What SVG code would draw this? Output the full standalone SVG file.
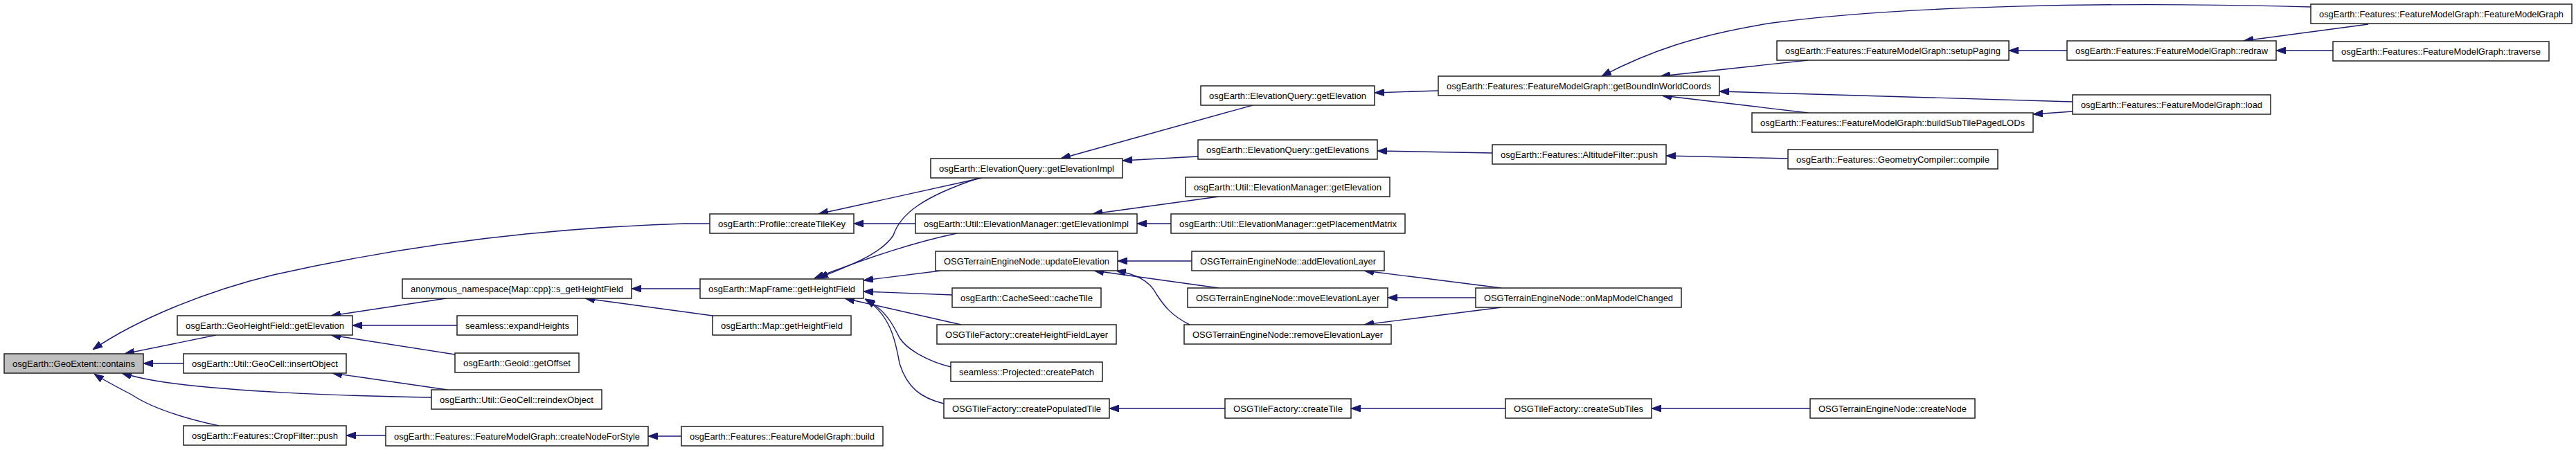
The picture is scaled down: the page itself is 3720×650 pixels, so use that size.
<svg xmlns="http://www.w3.org/2000/svg" width="3720" height="650" viewBox="0 0 3720 650">
<style>
.node rect{fill:#ffffff;stroke:#222222;stroke-width:1.5}
.node.root rect{fill:#bfbfbf}
.node text{font-family:"Liberation Sans",Arial,sans-serif;font-size:13px;fill:#000000;text-anchor:middle}
.edges path{fill:none;stroke:#191970;stroke-width:1.4;marker-end:url(#arr)}
</style>
<defs>
<marker id="arr" markerUnits="userSpaceOnUse" markerWidth="14" markerHeight="10" refX="14" refY="5" orient="auto" viewBox="0 0 14 10">
<path d="M0,0 L14,5 L0,10 z" fill="#191970" stroke="#191970" stroke-width="1"/>
</marker>
</defs>
<rect x="0" y="0" width="3720" height="650" fill="#ffffff"/>
<g class="edges">
<path d="M1025,323 L988,323 C760,330 560,360 395,397 C300,420 200,460 134,505"/>
<path d="M312,484 L180,511"/>
<path d="M265,525 L207,525"/>
<path d="M623,574 C480,572 330,565 237,552 C210,548 190,543 176,539"/>
<path d="M316,615 C270,605 220,590 190,570 C165,557 148,548 136,540"/>
<path d="M644,431 L478,456"/>
<path d="M660,470 L509,470"/>
<path d="M657,512 L478,484"/>
<path d="M646,563 L480,539"/>
<path d="M557,629 L500,629"/>
<path d="M984,630 L936,630"/>
<path d="M1011,417 L912,417"/>
<path d="M1029,456 L845,431"/>
<path d="M1418,257 L1182,309"/>
<path d="M1322,323 L1233,323"/>
<path d="M1414,257 C1330,285 1300,310 1290,340 C1270,370 1220,385 1182,402"/>
<path d="M1382,337 C1320,350 1260,370 1176,402"/>
<path d="M1359,391 L1247,405"/>
<path d="M1375,426 L1247,421"/>
<path d="M1388,469 L1220,431"/>
<path d="M1373,530 C1340,522 1310,505 1299,488 C1290,470 1280,448 1249,432"/>
<path d="M1363,583 C1330,575 1310,560 1299,525 C1293,490 1285,455 1250,432"/>
<path d="M1809,152 L1532,229"/>
<path d="M1730,226 L1621,232"/>
<path d="M1760,284 L1578,309"/>
<path d="M1691,323 L1642,323"/>
<path d="M2077,131 L1985,134"/>
<path d="M2155,221 L1989,218"/>
<path d="M2582,229 L2406,225"/>
<path d="M3337,10 C3050,2 2750,8 2560,33 C2450,50 2380,75 2313,110"/>
<path d="M2611,87 L2398,110"/>
<path d="M2993,147 L2483,132"/>
<path d="M2611,163 L2400,138"/>
<path d="M2985,73 L2901,73"/>
<path d="M2993,161 L2936,165"/>
<path d="M3420,35 L3240,59"/>
<path d="M3369,73 L3287,73"/>
<path d="M1721,377 L1614,377"/>
<path d="M1760,416 L1580,391"/>
<path d="M1718,469 C1690,455 1680,440 1670,425 C1660,405 1640,396 1612,391"/>
<path d="M2168,416 L1970,391"/>
<path d="M2131,430 L2004,430"/>
<path d="M2168,444 L1970,469"/>
<path d="M1769,590 L1602,590"/>
<path d="M2174,590 L1951,590"/>
<path d="M2614,590 L2385,590"/>
</g>
<g id="n0" class="node root"><rect x="6" y="511" width="201" height="28"/><text x="106.5" y="529.5" textLength="177" lengthAdjust="spacingAndGlyphs">osgEarth::GeoExtent::contains</text></g>
<g id="n1" class="node"><rect x="256" y="456" width="253" height="28"/><text x="382.5" y="474.5" textLength="229" lengthAdjust="spacingAndGlyphs">osgEarth::GeoHeightField::getElevation</text></g>
<g id="n2" class="node"><rect x="265" y="511" width="235" height="28"/><text x="382.5" y="529.5" textLength="211" lengthAdjust="spacingAndGlyphs">osgEarth::Util::GeoCell::insertObject</text></g>
<g id="n3" class="node"><rect x="265" y="615" width="235" height="28"/><text x="382.5" y="633.5" textLength="211" lengthAdjust="spacingAndGlyphs">osgEarth::Features::CropFilter::push</text></g>
<g id="n4" class="node"><rect x="581" y="403" width="331" height="28"/><text x="746.5" y="421.5" textLength="307" lengthAdjust="spacingAndGlyphs">anonymous_namespace{Map::cpp}::s_getHeightField</text></g>
<g id="n5" class="node"><rect x="660" y="456" width="174" height="28"/><text x="747" y="474.5" textLength="150" lengthAdjust="spacingAndGlyphs">seamless::expandHeights</text></g>
<g id="n6" class="node"><rect x="657" y="510" width="179" height="28"/><text x="746.5" y="528.5" textLength="155" lengthAdjust="spacingAndGlyphs">osgEarth::Geoid::getOffset</text></g>
<g id="n7" class="node"><rect x="623" y="563" width="246" height="28"/><text x="746" y="581.5" textLength="222" lengthAdjust="spacingAndGlyphs">osgEarth::Util::GeoCell::reindexObject</text></g>
<g id="n8" class="node"><rect x="557" y="616" width="379" height="28"/><text x="746.5" y="634.5" textLength="355" lengthAdjust="spacingAndGlyphs">osgEarth::Features::FeatureModelGraph::createNodeForStyle</text></g>
<g id="n9" class="node"><rect x="984" y="616" width="291" height="28"/><text x="1129.5" y="634.5" textLength="267" lengthAdjust="spacingAndGlyphs">osgEarth::Features::FeatureModelGraph::build</text></g>
<g id="n10" class="node"><rect x="1025" y="309" width="208" height="28"/><text x="1129" y="327.5" textLength="184" lengthAdjust="spacingAndGlyphs">osgEarth::Profile::createTileKey</text></g>
<g id="n11" class="node"><rect x="1011" y="403" width="236" height="28"/><text x="1129" y="421.5" textLength="212" lengthAdjust="spacingAndGlyphs">osgEarth::MapFrame::getHeightField</text></g>
<g id="n12" class="node"><rect x="1029" y="456" width="200" height="28"/><text x="1129" y="474.5" textLength="176" lengthAdjust="spacingAndGlyphs">osgEarth::Map::getHeightField</text></g>
<g id="n13" class="node"><rect x="1344" y="229" width="277" height="28"/><text x="1482.5" y="247.5" textLength="253" lengthAdjust="spacingAndGlyphs">osgEarth::ElevationQuery::getElevationImpl</text></g>
<g id="n14" class="node"><rect x="1322" y="309" width="320" height="28"/><text x="1482" y="327.5" textLength="296" lengthAdjust="spacingAndGlyphs">osgEarth::Util::ElevationManager::getElevationImpl</text></g>
<g id="n15" class="node"><rect x="1351" y="363" width="263" height="28"/><text x="1482.5" y="381.5" textLength="239" lengthAdjust="spacingAndGlyphs">OSGTerrainEngineNode::updateElevation</text></g>
<g id="n16" class="node"><rect x="1375" y="416" width="215" height="28"/><text x="1482.5" y="434.5" textLength="191" lengthAdjust="spacingAndGlyphs">osgEarth::CacheSeed::cacheTile</text></g>
<g id="n17" class="node"><rect x="1353" y="469" width="259" height="28"/><text x="1482.5" y="487.5" textLength="235" lengthAdjust="spacingAndGlyphs">OSGTileFactory::createHeightFieldLayer</text></g>
<g id="n18" class="node"><rect x="1373" y="523" width="219" height="28"/><text x="1482.5" y="541.5" textLength="195" lengthAdjust="spacingAndGlyphs">seamless::Projected::createPatch</text></g>
<g id="n19" class="node"><rect x="1363" y="576" width="239" height="28"/><text x="1482.5" y="594.5" textLength="215" lengthAdjust="spacingAndGlyphs">OSGTileFactory::createPopulatedTile</text></g>
<g id="n20" class="node"><rect x="1734" y="124" width="251" height="28"/><text x="1859.5" y="142.5" textLength="227" lengthAdjust="spacingAndGlyphs">osgEarth::ElevationQuery::getElevation</text></g>
<g id="n21" class="node"><rect x="1730" y="202" width="259" height="28"/><text x="1859.5" y="220.5" textLength="235" lengthAdjust="spacingAndGlyphs">osgEarth::ElevationQuery::getElevations</text></g>
<g id="n22" class="node"><rect x="1712" y="256" width="295" height="28"/><text x="1859.5" y="274.5" textLength="271" lengthAdjust="spacingAndGlyphs">osgEarth::Util::ElevationManager::getElevation</text></g>
<g id="n23" class="node"><rect x="1691" y="309" width="338" height="28"/><text x="1860" y="327.5" textLength="314" lengthAdjust="spacingAndGlyphs">osgEarth::Util::ElevationManager::getPlacementMatrix</text></g>
<g id="n24" class="node"><rect x="1721" y="363" width="278" height="28"/><text x="1860" y="381.5" textLength="254" lengthAdjust="spacingAndGlyphs">OSGTerrainEngineNode::addElevationLayer</text></g>
<g id="n25" class="node"><rect x="1715" y="416" width="289" height="28"/><text x="1859.5" y="434.5" textLength="265" lengthAdjust="spacingAndGlyphs">OSGTerrainEngineNode::moveElevationLayer</text></g>
<g id="n26" class="node"><rect x="1710" y="469" width="299" height="28"/><text x="1859.5" y="487.5" textLength="275" lengthAdjust="spacingAndGlyphs">OSGTerrainEngineNode::removeElevationLayer</text></g>
<g id="n27" class="node"><rect x="1769" y="576" width="182" height="28"/><text x="1860" y="594.5" textLength="158" lengthAdjust="spacingAndGlyphs">OSGTileFactory::createTile</text></g>
<g id="n28" class="node"><rect x="2077" y="110" width="406" height="28"/><text x="2280" y="128.5" textLength="382" lengthAdjust="spacingAndGlyphs">osgEarth::Features::FeatureModelGraph::getBoundInWorldCoords</text></g>
<g id="n29" class="node"><rect x="2155" y="209" width="251" height="28"/><text x="2280.5" y="227.5" textLength="227" lengthAdjust="spacingAndGlyphs">osgEarth::Features::AltitudeFilter::push</text></g>
<g id="n30" class="node"><rect x="2131" y="416" width="297" height="28"/><text x="2279.5" y="434.5" textLength="273" lengthAdjust="spacingAndGlyphs">OSGTerrainEngineNode::onMapModelChanged</text></g>
<g id="n31" class="node"><rect x="2174" y="576" width="211" height="28"/><text x="2279.5" y="594.5" textLength="187" lengthAdjust="spacingAndGlyphs">OSGTileFactory::createSubTiles</text></g>
<g id="n32" class="node"><rect x="2566" y="59" width="335" height="28"/><text x="2733.5" y="77.5" textLength="311" lengthAdjust="spacingAndGlyphs">osgEarth::Features::FeatureModelGraph::setupPaging</text></g>
<g id="n33" class="node"><rect x="2530" y="163" width="406" height="28"/><text x="2733" y="181.5" textLength="382" lengthAdjust="spacingAndGlyphs">osgEarth::Features::FeatureModelGraph::buildSubTilePagedLODs</text></g>
<g id="n34" class="node"><rect x="2582" y="216" width="303" height="28"/><text x="2733.5" y="234.5" textLength="279" lengthAdjust="spacingAndGlyphs">osgEarth::Features::GeometryCompiler::compile</text></g>
<g id="n35" class="node"><rect x="2614" y="576" width="238" height="28"/><text x="2733" y="594.5" textLength="214" lengthAdjust="spacingAndGlyphs">OSGTerrainEngineNode::createNode</text></g>
<g id="n36" class="node"><rect x="2985" y="59" width="302" height="28"/><text x="3136" y="77.5" textLength="278" lengthAdjust="spacingAndGlyphs">osgEarth::Features::FeatureModelGraph::redraw</text></g>
<g id="n37" class="node"><rect x="2993" y="137" width="286" height="28"/><text x="3136" y="155.5" textLength="262" lengthAdjust="spacingAndGlyphs">osgEarth::Features::FeatureModelGraph::load</text></g>
<g id="n38" class="node"><rect x="3337" y="6" width="377" height="28"/><text x="3525.5" y="24.5" textLength="353" lengthAdjust="spacingAndGlyphs">osgEarth::Features::FeatureModelGraph::FeatureModelGraph</text></g>
<g id="n39" class="node"><rect x="3369" y="60" width="312" height="28"/><text x="3525" y="78.5" textLength="288" lengthAdjust="spacingAndGlyphs">osgEarth::Features::FeatureModelGraph::traverse</text></g>
</svg>
